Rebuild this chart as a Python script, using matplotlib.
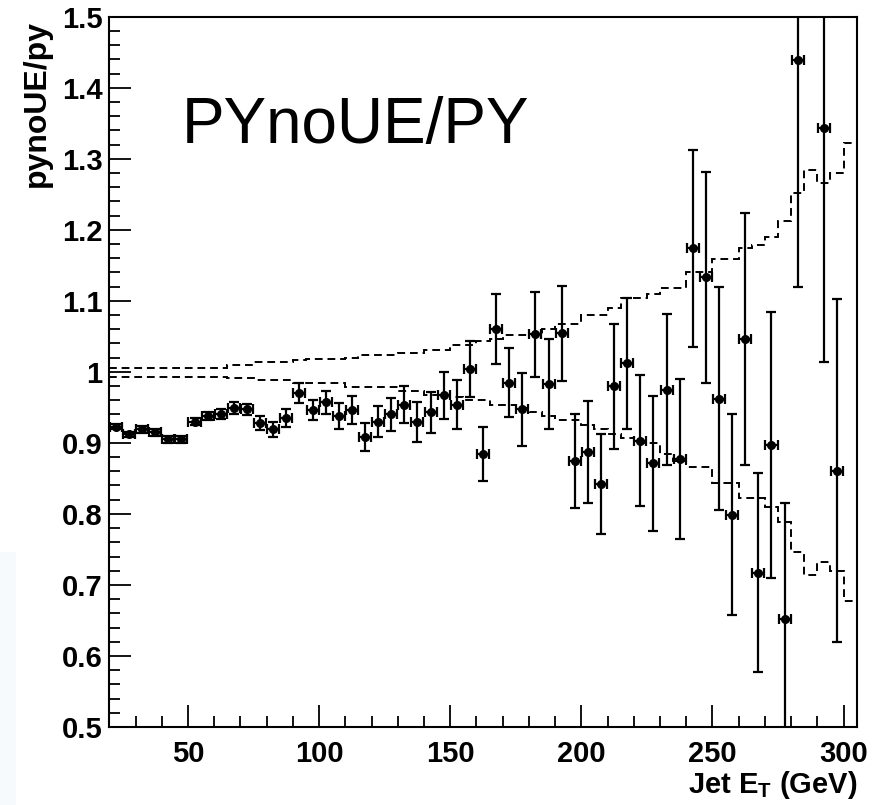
import numpy as np
import matplotlib
matplotlib.use("Agg")
import matplotlib.pyplot as plt
from matplotlib.patches import Rectangle
from matplotlib.ticker import MultipleLocator

plt.rcParams['font.family'] = ['Liberation Sans', 'DejaVu Sans']
plt.rcParams['mathtext.fontset'] = 'custom'
plt.rcParams['mathtext.rm'] = 'Liberation Sans:bold'
plt.rcParams['mathtext.bf'] = 'Liberation Sans:bold'

# ---- data ----
et_centers = [22.5, 27.5, 32.5, 37.5, 42.5, 47.5, 52.5, 57.5, 62.5, 67.5,
              72.5, 77.5, 82.5, 87.5, 92.5, 97.5, 102.5, 107.5, 112.5, 117.5,
              122.5, 127.5, 132.5, 137.5, 142.5, 147.5, 152.5, 157.5, 162.5, 167.5,
              172.5, 177.5, 182.5, 187.5, 192.5, 197.5, 202.5, 207.5, 212.5, 217.5,
              222.5, 227.5, 232.5, 237.5, 242.5, 247.5, 252.5, 257.5, 262.5, 267.5,
              272.5, 277.5, 282.5, 292.5, 297.5]
ratio = [0.923, 0.912, 0.919, 0.915, 0.905, 0.905, 0.930, 0.938, 0.941, 0.949,
         0.947, 0.928, 0.919, 0.935, 0.970, 0.946, 0.957, 0.938, 0.946, 0.908,
         0.930, 0.940, 0.954, 0.929, 0.943, 0.967, 0.954, 1.004, 0.885, 1.060,
         0.985, 0.947, 1.053, 0.983, 1.054, 0.874, 0.887, 0.842, 0.980, 1.012,
         0.903, 0.871, 0.975, 0.877, 1.174, 1.133, 0.962, 0.799, 1.046, 0.717,
         0.897, 0.652, 1.439, 1.344, 0.861]
ratio_err = [0.004, 0.004, 0.005, 0.005, 0.005, 0.005, 0.005, 0.006, 0.007, 0.009,
             0.008, 0.010, 0.011, 0.012, 0.014, 0.014, 0.016, 0.018, 0.020, 0.020,
             0.022, 0.023, 0.026, 0.028, 0.029, 0.033, 0.035, 0.040, 0.038, 0.049,
             0.048, 0.052, 0.060, 0.063, 0.067, 0.066, 0.072, 0.070, 0.088, 0.092,
             0.092, 0.095, 0.106, 0.113, 0.139, 0.148, 0.157, 0.141, 0.177, 0.140,
             0.187, 0.163, 0.320, 0.330, 0.242]
et_halfwidth = 2.3

band_edges = list(range(20, 306, 5))
band_upper = [1.006, 1.006, 1.006, 1.006, 1.006, 1.006, 1.006, 1.006, 1.006,
              1.010, 1.010, 1.014, 1.014, 1.014, 1.017, 1.018, 1.018, 1.018,
              1.020, 1.024, 1.024, 1.024, 1.027, 1.027, 1.031, 1.031, 1.038,
              1.038, 1.043, 1.046, 1.052, 1.052, 1.052, 1.060, 1.067, 1.067,
              1.080, 1.080, 1.090, 1.104, 1.104, 1.110, 1.118, 1.118, 1.140,
              1.140, 1.159, 1.159, 1.174, 1.179, 1.190, 1.212, 1.252, 1.284,
              1.266, 1.280, 1.322]
band_lower = [0.993, 0.993, 0.993, 0.993, 0.993, 0.993, 0.993, 0.993, 0.993,
              0.991, 0.991, 0.989, 0.989, 0.989, 0.984, 0.984, 0.984, 0.984,
              0.978, 0.978, 0.978, 0.978, 0.973, 0.973, 0.968, 0.968, 0.965,
              0.961, 0.961, 0.954, 0.954, 0.949, 0.944, 0.938, 0.932, 0.932,
              0.925, 0.919, 0.912, 0.907, 0.900, 0.900, 0.885, 0.875, 0.866,
              0.866, 0.843, 0.843, 0.823, 0.823, 0.810, 0.789, 0.746, 0.714,
              0.732, 0.720, 0.677]

x_ticks = [50, 100, 150, 200, 250, 300]
y_ticks = [0.5, 0.6, 0.7, 0.8, 0.9, 1.0, 1.1, 1.2, 1.3, 1.4, 1.5]
y_ticklabels = ['0.5', '0.6', '0.7', '0.8', '0.9', '1', '1.1', '1.2', '1.3', '1.4', '1.5']

# ---- figure ----
W, H = 880, 805
fig = plt.figure(figsize=(W / 100, H / 100), dpi=100)
fig.patch.set_facecolor('white')
fig.patches.append(Rectangle((0, 0), 16 / W, (805 - 552) / H, transform=fig.transFigure,
                             facecolor='#f6fafd', edgecolor='none', zorder=0))

ax = fig.add_axes([109.3 / W, 1 - 727 / H, (856.7 - 109.3) / W, (727 - 16.7) / H])
ax.set_xlim(20, 305)
ax.set_ylim(0.5, 1.5)

ax.stairs(band_upper, band_edges, color='black', lw=1.4, linestyle=(0, (4, 2.5)),
          baseline=None)
ax.stairs(band_lower, band_edges, color='black', lw=1.4, linestyle=(0, (4, 2.5)),
          baseline=None)

ax.errorbar(et_centers, ratio, yerr=ratio_err, xerr=et_halfwidth, fmt='o',
            color='black', ms=5.5, elinewidth=1.6, capsize=3.5, capthick=1.6)

for s in ax.spines.values():
    s.set_linewidth(1.5)

ax.set_xticks(x_ticks)
ax.xaxis.set_minor_locator(MultipleLocator(10))
ax.set_yticks(y_ticks)
ax.set_yticklabels(y_ticklabels)
ax.yaxis.set_minor_locator(MultipleLocator(0.02))
ax.tick_params(which='both', direction='in', top=False, right=False, width=1.3)
ax.tick_params(which='major', length=16)
ax.tick_params(which='minor', length=8)
ax.tick_params(axis='y', which='major', pad=5)
ax.tick_params(axis='x', which='major', pad=9)
for lab in ax.get_xticklabels() + ax.get_yticklabels():
    lab.set_fontsize(21)
    lab.set_fontweight('bold')

fig.text(37 / W, 1 - 20 / H, 'pynoUE/py', rotation=90, ha='center', va='top',
         fontsize=23, fontweight='bold')
fig.text(857 / W, 1 - 785 / H, r'Jet E$_{\mathbf{T}}$ (GeV)', ha='right', va='center',
         fontsize=21, fontweight='bold')
fig.text(182 / W, 1 - 143 / H, 'PYnoUE/PY', ha='left', va='baseline', fontsize=46)

fig.savefig('out.png', dpi=100)
